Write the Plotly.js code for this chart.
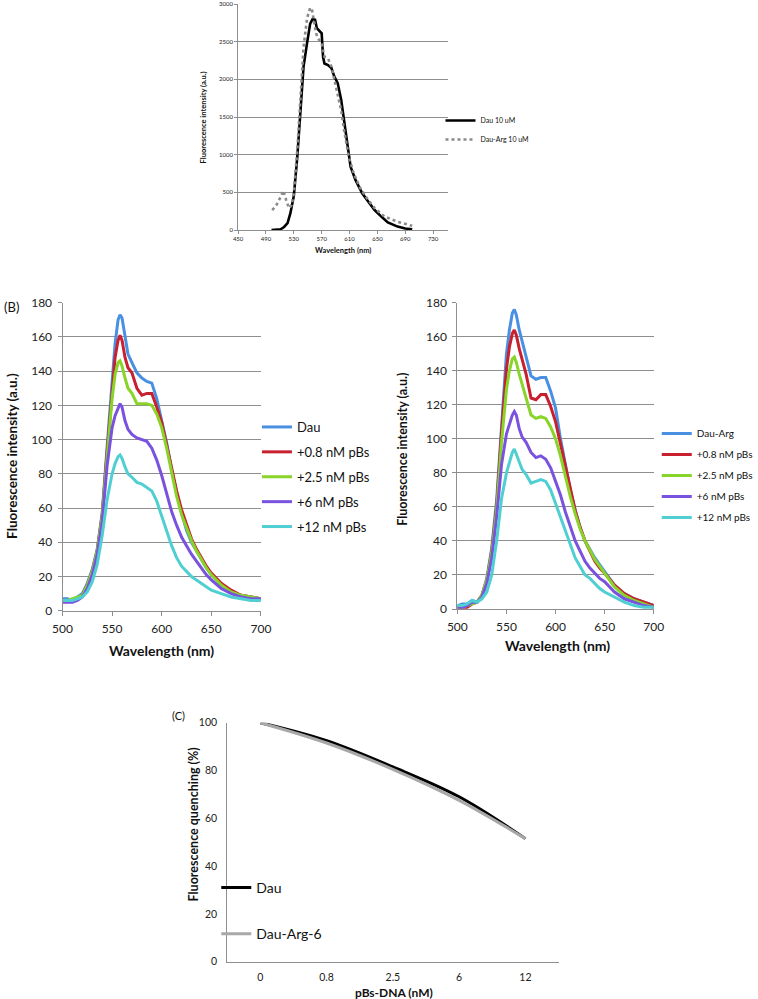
<!DOCTYPE html>
<html>
<head>
<meta charset="utf-8">
<script src="https://cdn.plot.ly/plotly-3.0.1.min.js"></script>
<style>html,body{margin:0;padding:0;background:#fff;}#chart{width:758px;height:999px;}</style>
</head>
<body>
<div id="chart"></div>
<script>
// ---------- Panel A data ----------
const aDauWl = [498,505,511,516,521,525,530,535,540,544,549,553.5,557,560.5,563,566.5,570,572,574,579,584,588,593,598,602,607,611.5,618.5,628,637,646,656,665,679,690,700];
const aDauVal = [0,0,10,40,90,220,450,970,1720,2170,2480,2740,2800,2790,2680,2650,2610,2300,2210,2190,2150,2040,1950,1730,1460,1110,840,665,490,375,265,175,100,45,20,8];
const aArgWl = [499,505,510,515,519,523,527,530,535,540,544,549,553.5,556,558,562,565,570,574,579,584,588,593,598,602,609,616,625.5,635,646,660,679,700];
const aArgVal = [265,330,420,522,400,290,330,490,1060,1810,2430,2810,2950,2930,2830,2610,2540,2480,2300,2280,2170,1990,1810,1590,1330,970,750,555,420,290,180,110,55];
const aNames = ["Dau 10 uM","Dau-Arg 10 uM"];
const aXTicks = [450,490,530,570,610,650,690,730];

// ---------- Panel B data (shared wavelengths) ----------
const bWl = [500,505,510,515,520,525,530,535,540,545,550,553,556,558,560,563,566,570,575,580,585,590,595,600,605,610,615,620,625,630,635,640,645,650,660,670,680,690,700];
// left: Dau
const bL_dau  = [7,7,6,8,10,16,24,36,57,96,137,156,170,173,171,160,150,145,139,136,134,133,124,111,98,82,69,57,47,40,35,30,25,21,15,11,9,8,7];
const bL_08   = [6,6,6,7,9,15,23,35,56,93,130,148,158,161,158,148,142,139,130,126,127,127,119,110,97,83,70,59,50,42,36,31,26,22,16,12,9,8,7];
const bL_25   = [6,6,7,8,9,15,23,35,55,90,124,138,145,146,143,136,130,127,121,121,121,120,115,107,95,81,67,56,48,41,35,30,25,21,15,11,9,8,7];
const bL_6    = [5,5,5,6,8,13,21,33,52,85,107,114,119,121,119,111,106,103,101,100,99,95,88,79,68,58,50,43,38,33,29,25,21,18,13,10,8,7,7];
const bL_12   = [6,6,6,7,8,11,17,27,44,65,80,86,90,91,89,84,80,78,75,74,72,70,64,55,46,38,31,26,23,20,18,16,14,12,10,8,7,6,6];
const bL_names = ["Dau","+0.8 nM pBs","+2.5 nM pBs","+6 nM pBs","+12 nM pBs"];
// right: Dau-Arg
const bR_arg  = [2,3,3,5,4,8,18,36,64,110,150,164,174,176,173,164,157,148,137,135,136,136,128,118,100,85,70,58,48,40,35,30,26,22,14,9,6,4,2];
const bR_08   = [1,1,1,3,4,8,17,34,60,104,141,154,162,164,161,153,146,138,124,123,126,126,119,110,97,84,70,58,48,40,34,28,24,21,14,9,6,4,2];
const bR_25   = [1,1,2,3,4,8,17,33,58,98,129,140,147,148,145,138,132,125,114,112,113,112,107,100,90,78,66,56,47,40,34,29,25,21,13,8,5,3,1];
const bR_6    = [1,1,2,4,4,7,15,30,54,85,103,109,114,116,114,106,101,98,92,89,90,88,83,75,67,57,48,40,34,28,24,21,18,16,10,6,4,2,1];
const bR_12   = [2,2,3,5,4,6,10,20,40,65,80,86,92,94,91,86,82,79,74,75,76,75,70,62,54,45,37,30,25,20,18,15,12,10,7,4,2,1,1];
const bR_names = ["Dau-Arg","+0.8 nM pBs","+2.5 nM pBs","+6 nM pBs","+12 nM pBs"];
const bColors = ["#4a90e2","#c8202f","#88d428","#7a52e0","#4fcfd2"];

// ---------- Panel C data ----------
const cCats = ["0","0.8","2.5","6","12"];
const cDau = [100,92.5,81.5,69,51.5];
const cArg = [100,91.5,80.5,67.5,51.5];
const cNames = ["Dau","Dau-Arg-6"];

// ---------- layout helpers ----------
const W = 758, H = 999;
const px = v => v / W;
const py = v => 1 - v / H;
const FONT = "Lato, 'Open Sans', sans-serif";
const GRID = "#8e8e8e";

const traces = [];
// A
traces.push({x:aDauWl, y:aDauVal, type:"scatter", mode:"lines", name:aNames[0], xaxis:"x", yaxis:"y",
  line:{color:"#000", width:2.6}, legend:"legend"});
traces.push({x:aArgWl, y:aArgVal, type:"scatter", mode:"lines", name:aNames[1], xaxis:"x", yaxis:"y",
  line:{color:"#8a8a8a", width:2.6, dash:"dot"}, legend:"legend"});
// B left
[bL_dau,bL_08,bL_25,bL_6,bL_12].forEach((s,i)=>{
  traces.push({x:bWl, y:s, type:"scatter", mode:"lines", name:bL_names[i], xaxis:"x2", yaxis:"y2",
    line:{color:bColors[i], width:3}, legend:"legend2", legendgroup:"bl"+i});
});
// B right
[bR_arg,bR_08,bR_25,bR_6,bR_12].forEach((s,i)=>{
  traces.push({x:bWl, y:s, type:"scatter", mode:"lines", name:bR_names[i], xaxis:"x3", yaxis:"y3",
    line:{color:bColors[i], width:3}, legend:"legend3", legendgroup:"br"+i});
});
// C
traces.push({x:cCats, y:cDau, type:"scatter", mode:"lines", name:cNames[0], xaxis:"x4", yaxis:"y4",
  line:{color:"#000", width:3, shape:"spline"}, legend:"legend4", legendgroup:"c0"});
traces.push({x:cCats, y:cArg, type:"scatter", mode:"lines", name:cNames[1], xaxis:"x4", yaxis:"y4",
  line:{color:"#a8a8a8", width:3, shape:"spline"}, legend:"legend4", legendgroup:"c1"});

const tickFont = s => ({family:FONT, size:s, color:"#222"});
const xAx = (dom, anchor, extra) => Object.assign({domain:dom, anchor:anchor, showgrid:false, zeroline:false,
  showline:true, linecolor:GRID, linewidth:1, ticks:"outside", ticklen:4, tickcolor:GRID}, extra);
const yAx = (dom, anchor, extra) => Object.assign({domain:dom, anchor:anchor, showgrid:true, gridcolor:GRID, gridwidth:1,
  zeroline:false, showline:true, linecolor:GRID, linewidth:1, ticks:"outside", ticklen:4, tickcolor:GRID}, extra);

const ann = (text, x, y, size, extra) => Object.assign({text:text, x:px(x), y:py(y), xref:"paper", yref:"paper",
  showarrow:false, xanchor:"center", yanchor:"middle", font:{family:FONT, size:size, color:"#111"}}, extra);

const legendBase = (x, y, size, gap) => ({x:px(x), y:py(y), xanchor:"left", yanchor:"top", bgcolor:"rgba(0,0,0,0)",
  font:{family:FONT, size:size, color:"#111"}, tracegroupgap:gap, traceorder:"grouped", itemwidth:30});

const layout = {
  width:W, height:H, margin:{l:0,r:0,t:0,b:0}, paper_bgcolor:"#fff", plot_bgcolor:"#fff",
  showlegend:true, hovermode:false,
  xaxis: xAx([px(240),px(452)], "y", {range:[450,752], tickvals:aXTicks, tickfont:tickFont(6), ticklen:3}),
  yaxis: yAx([py(230),py(4)], "x", {range:[0,3000], dtick:500, tickfont:tickFont(6), ticklen:3}),
  xaxis2: xAx([px(63),px(263)], "y2", {range:[500,700], dtick:50, tickfont:tickFont(12), ticklabelstandoff:3}),
  yaxis2: yAx([py(610.7),py(302.7)], "x2", {range:[0,180], dtick:20, tickfont:tickFont(12), ticklabelstandoff:3}),
  xaxis3: xAx([px(461),px(659)], "y3", {range:[500,700], dtick:50, tickfont:tickFont(12), ticklabelstandoff:3}),
  yaxis3: yAx([py(609),py(302.7)], "x3", {range:[0,180], dtick:20, tickfont:tickFont(12), ticklabelstandoff:3}),
  xaxis4: xAx([px(229),px(563)], "y4", {type:"category", range:[-0.5,4.5], ticks:"", tickfont:tickFont(10.5), ticklabelstandoff:6}),
  yaxis4: yAx([py(961.7),py(722.7)], "x4", {range:[0,100], dtick:20, showgrid:false, ticks:"", tickfont:tickFont(10.5), ticklabelstandoff:7}),
  legend: legendBase(444, 106, 7, 0),
  legend2: legendBase(259, 412, 13, 5),
  legend3: legendBase(662, 419, 10, 2),
  legend4: legendBase(218, 872, 14, 25),
  annotations: [
    ann("<b>Wavelength (nm)</b>", 346, 250, 7.5),
    ann("<b>Fluorescence intensity (a.u.)</b>", 205, 117, 7.5, {textangle:-90}),
    ann("(B)", 12, 307, 13),
    ann("<b>Wavelength (nm)</b>", 163, 650, 14),
    ann("<b>Fluorescence intensity (a.u.)</b>", 12, 456, 13.5, {textangle:-90}),
    ann("<b>Wavelength (nm)</b>", 562, 645, 14),
    ann("<b>Fluorescence intensity (a.u.)</b>", 405, 449, 12.5, {textangle:-90}),
    ann("(C)", 180, 715, 11),
    ann("<b>pBs-DNA (nM)</b>", 397, 992, 12),
    ann("<b>Fluorescence quenching (%)</b>", 195, 824, 12.5, {textangle:-90})
  ]
};

Plotly.newPlot("chart", traces, layout, {staticPlot:true, displayModeBar:false});
</script>
</body>
</html>
